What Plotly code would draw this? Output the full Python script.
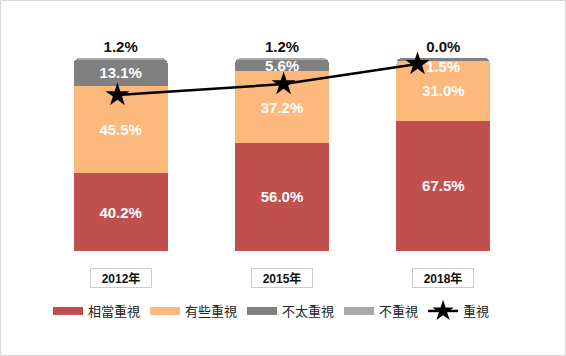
import plotly.graph_objects as go

categories = ["2012年", "2015年", "2018年"]
s_very = [40.2, 56.0, 67.5]
s_some = [45.5, 37.2, 31.0]
s_little = [13.1, 5.6, 1.5]
s_none = [1.2, 1.2, 0.0]
s_line = [80.8, 86.5, 96.9]
# horizontal positions of the line's points, in category units
line_pos = [-0.02, 1.01, 1.84]

names = ["相當重視", "有些重視", "不太重視", "不重視", "重視"]
colors = ["#c0504d", "#fdb87b", "#808080", "#a9a9a9"]

FONT = "Liberation Sans, Arial, Noto Sans CJK TC, sans-serif"
L, R, T, B = 40, 42, 58, 105
W, H = 566, 356
pw, ph = W - L - R, H - T - B

xpos = list(range(len(categories)))

fig = go.Figure()
series = [s_very, s_some, s_little, s_none]
for i, vals in enumerate(series):
    top = i == 3
    texts = [f"{v:.1f}%" for v in vals]
    if i == 2:
        # labels of very thin segments are drawn below the segment (annotation)
        texts = [t if v >= 3 else "" for t, v in zip(texts, vals)]
    fig.add_trace(go.Bar(
        x=xpos, y=vals, name=names[i],
        marker=dict(color=colors[i], line=dict(width=0)),
        text=texts,
        textposition="outside" if top else "inside",
        insidetextanchor="middle",
        textangle=0,
        insidetextfont=dict(color="white", size=15, family=FONT),
        outsidetextfont=dict(color="#111", size=15, family=FONT),
        texttemplate="<b>%{text}</b>",
        cliponaxis=False,
        showlegend=False,
        hoverinfo="skip",
    ))

for i, v in enumerate(s_little):
    if v < 3:
        base = s_very[i] + s_some[i]
        fig.add_annotation(x=i, y=base + v / 2, xref="x", yref="y", yshift=-7,
                           text=f"<b>{v:.1f}%</b>", showarrow=False,
                           font=dict(size=15, color="white", family=FONT))

fig.add_trace(go.Scatter(
    x=line_pos, y=s_line, name=names[4], mode="lines+markers",
    line=dict(color="black", width=2.5),
    marker=dict(symbol="star", size=18, color="black"),
    showlegend=False, cliponaxis=False, hoverinfo="skip",
))

# legend entries
for i in range(4):
    fig.add_trace(go.Scatter(x=[None], y=[None], mode="lines", name=names[i],
                             line=dict(color=colors[i], width=8)))
fig.add_trace(go.Scatter(x=[None], y=[None], mode="lines+markers", name=names[4],
                         line=dict(color="black", width=2.5),
                         marker=dict(symbol="star", size=16, color="black")))

for i, c in enumerate(categories):
    fig.add_annotation(x=i, y=0, xref="x", yref="y", yshift=-27,
                       text=f"<b>{c}</b>", showarrow=False,
                       font=dict(size=12, color="#111", family=FONT),
                       bordercolor="#cccccc", borderwidth=1, width=58, height=16,
                       borderpad=1, bgcolor="white")

fig.add_shape(type="rect", xref="paper", yref="paper",
              x0=(0.5 - L) / pw, x1=(W - 0.5 - L) / pw,
              y0=-(B - 0.5) / ph, y1=1 + (T - 0.5) / ph,
              line=dict(color="#d6d6d6", width=1), layer="below")

fig.update_layout(
    width=W, height=H,
    margin=dict(l=L, r=R, t=T, b=B),
    barmode="stack", bargap=0.417, barcornerradius=6,
    plot_bgcolor="white", paper_bgcolor="white",
    font=dict(family=FONT, size=13, color="#222"),
    xaxis=dict(showticklabels=False, showgrid=False, zeroline=False, showline=False,
               range=[-0.5, 2.5]),
    yaxis=dict(visible=False, range=[0, 100]),
    showlegend=True,
    legend=dict(orientation="h", x=(48 - L) / pw, xanchor="left",
                y=(251 - 311) / ph, yanchor="middle", traceorder="normal",
                font=dict(size=13, color="#222"), itemwidth=30),
    uniformtext=dict(minsize=15, mode="show"),
)

fig.write_html("out.html", config={"displayModeBar": False},
               post_script="document.body.style.margin='0px';")
